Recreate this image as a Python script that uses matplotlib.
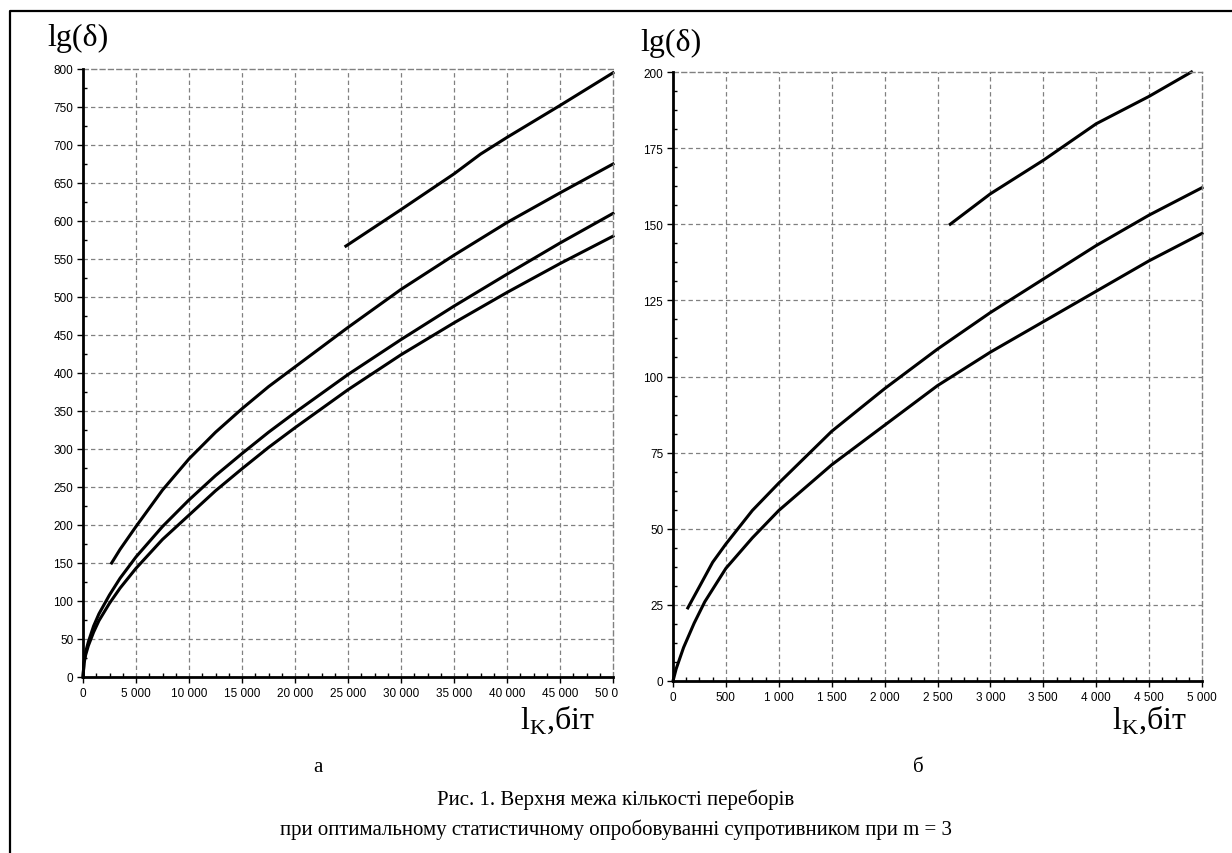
import matplotlib
matplotlib.use("Agg")
import matplotlib.pyplot as plt
from matplotlib.ticker import MultipleLocator, FuncFormatter
from matplotlib.lines import Line2D
from matplotlib.transforms import Bbox

# Curves of the left panel (a): l_K up to 50 000 bit
a1_x = [24800, 30000, 35000, 37500, 40000, 45000, 50000]
a1_y = [567, 615, 662, 688, 710, 752, 795]
a2_x = [2700, 3500, 5000, 7500, 10000, 12500, 15000, 17500, 20000, 25000, 30000, 35000, 40000, 45000, 50000]
a2_y = [150, 168, 198, 246, 287, 322, 353, 382, 408, 460, 510, 555, 598, 637, 675]
a3_x = [0, 100, 250, 500, 1000, 1500, 2500, 3500, 5000, 7500, 10000, 12500, 15000, 17500, 20000, 25000, 30000, 35000, 40000, 45000, 50000]
a3_y = [0, 20, 33, 46, 67, 83, 108, 130, 158, 198, 233, 265, 294, 322, 348, 398, 444, 488, 530, 571, 610]
a4_x = [0, 100, 250, 500, 1000, 1500, 2500, 3500, 5000, 7500, 10000, 12500, 15000, 17500, 20000, 25000, 30000, 35000, 40000, 45000, 50000]
a4_y = [0, 18, 29, 41, 59, 74, 97, 117, 143, 181, 213, 245, 274, 302, 328, 378, 424, 466, 506, 544, 580]

# Curves of the right panel (б): l_K up to 5 000 bit
b1_x = [2620, 3000, 3500, 4000, 4500, 4900]
b1_y = [150, 160, 171, 183, 192, 200]
b2_x = [140, 250, 375, 500, 750, 1000, 1500, 2000, 2500, 3000, 3500, 4000, 4500, 5000]
b2_y = [24, 31, 39, 45, 56, 65, 82, 96, 109, 121, 132, 143, 153, 162]
b3_x = [0, 30, 100, 200, 300, 500, 750, 1000, 1500, 2000, 2500, 3000, 3500, 4000, 4500, 5000]
b3_y = [0, 4, 11, 19, 26, 37, 47, 56, 71, 84, 97, 108, 118, 128, 138, 147]

plt.rcParams['mathtext.fontset'] = 'custom'
plt.rcParams['mathtext.rm'] = 'Liberation Serif'

W, H = 1232, 854
fig = plt.figure(figsize=(W / 100, H / 100), dpi=100)


def px(x0, y0, x1, y1):
    # pixel box -> figure fraction [left, bottom, width, height]
    return [x0 / W, 1 - y1 / H, (x1 - x0) / W, (y1 - y0) / H]


def thousands(v, pos):
    return '{:,.0f}'.format(v).replace(',', ' ')


def style_axes(ax, xmax, ymax, xmaj, xmin, ymaj, ymin):
    ax.set_xlim(0, xmax)
    ax.set_ylim(0, ymax)
    ax.xaxis.set_major_locator(MultipleLocator(xmaj))
    ax.xaxis.set_minor_locator(MultipleLocator(xmin))
    ax.yaxis.set_major_locator(MultipleLocator(ymaj))
    ax.yaxis.set_minor_locator(MultipleLocator(ymin))
    ax.xaxis.set_major_formatter(FuncFormatter(thousands))
    ax.grid(True, which='major', color='#808080', linestyle=(0, (3.5, 2.5)), linewidth=0.9)
    for s in ('top', 'right'):
        ax.spines[s].set_color('#808080')
        ax.spines[s].set_linestyle((0, (3.5, 2.5)))
        ax.spines[s].set_linewidth(1.0)
    for s in ('left', 'bottom'):
        ax.spines[s].set_linewidth(2.0)
        ax.spines[s].set_zorder(5)
    ax.tick_params(which='major', direction='out', length=4, width=1, pad=3,
                   labelsize=8.5, labelfontfamily='Liberation Sans')
    ax.tick_params(which='minor', direction='in', length=3, width=1)


ax1 = fig.add_axes(px(83, 70, 613, 678))
for x, y in [(a1_x, a1_y), (a2_x, a2_y), (a3_x, a3_y), (a4_x, a4_y)]:
    ax1.plot(x, y, color='black', linewidth=2.2, clip_on=False)
style_axes(ax1, 50000, 800, 5000, 1250, 50, 25)

ax2 = fig.add_axes(px(673, 73, 1202, 682))
for x, y in [(b1_x, b1_y), (b2_x, b2_y), (b3_x, b3_y)]:
    ax2.plot(x, y, color='black', linewidth=2.2, clip_on=False)
style_axes(ax2, 5000, 200, 500, 125, 25, 6.25)

fig.canvas.draw()
# grid lines lying on the top/right border would double the dashed spine
for ax, xmax, ymax in [(ax1, 50000, 800), (ax2, 5000, 200)]:
    for t in ax.xaxis.get_major_ticks():
        if t.get_loc() >= xmax:
            t.gridline.set_visible(False)
    for t in ax.yaxis.get_major_ticks():
        if t.get_loc() >= ymax:
            t.gridline.set_visible(False)

# the last tick label of panel a is cut off by the panel border
for lab in ax1.get_xticklabels():
    if lab.get_text() == '50 000':
        lab.set_clip_box(Bbox.from_extents(0, 0, 618, H))
        lab.set_clip_on(True)

serif = 'Liberation Serif'
fig.text(47 / W, 1 - 38 / H, 'lg(δ)', family=serif, fontsize=23, ha='left', va='center')
fig.text(640 / W, 1 - 43 / H, 'lg(δ)', family=serif, fontsize=23, ha='left', va='center')
fig.text(595 / W, 1 - 720 / H, r'l$_\mathrm{K}$,біт', family=serif, fontsize=23, ha='right', va='center')
fig.text(1187 / W, 1 - 720 / H, r'l$_\mathrm{K}$,біт', family=serif, fontsize=23, ha='right', va='center')
fig.text(318 / W, 1 - 768 / H, 'а', family=serif, fontsize=15, ha='center', va='center')
fig.text(918 / W, 1 - 768 / H, 'б', family=serif, fontsize=15, ha='center', va='center')
fig.text(616 / W, 1 - 800 / H, 'Рис. 1. Верхня межа кількості переборів',
         family=serif, fontsize=15, ha='center', va='center')
fig.text(616 / W, 1 - 830 / H, 'при оптимальному статистичному опробовуванні супротивником при m = 3',
         family=serif, fontsize=15, ha='center', va='center')

# border of the figure panel (top and left edges)
fig.add_artist(Line2D([10 / W, 10 / W, 1], [0, 1 - 12 / H, 1 - 12 / H],
                      transform=fig.transFigure, color='black', linewidth=1.6))

fig.savefig('out.png', dpi=100)
